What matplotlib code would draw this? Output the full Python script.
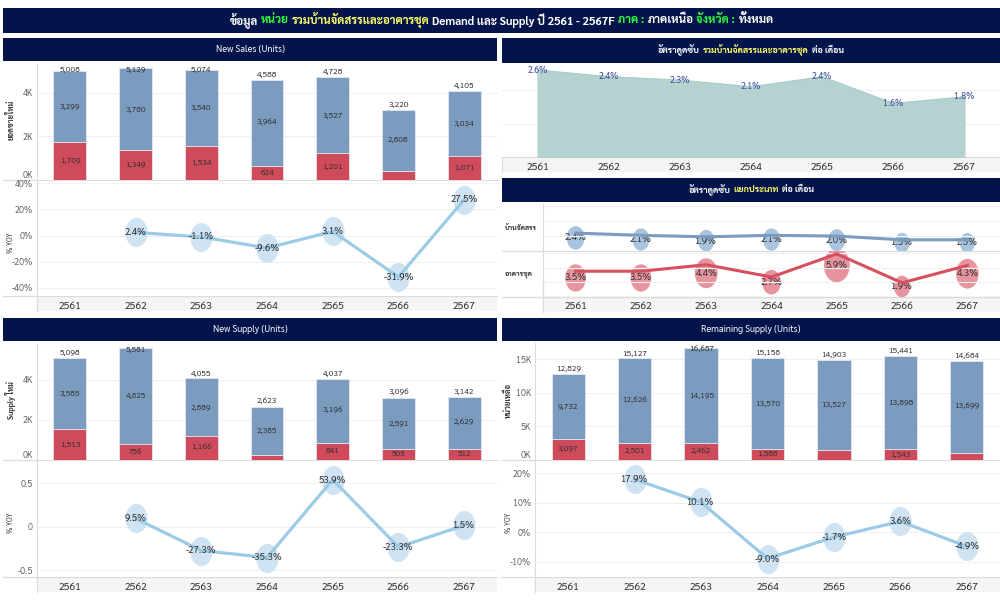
import matplotlib
matplotlib.use("Agg")
import matplotlib.pyplot as plt
from matplotlib.lines import Line2D
from matplotlib.patches import Rectangle
from matplotlib.path import Path
from matplotlib.ticker import FuncFormatter
from matplotlib.transforms import Affine2D

plt.rcParams["font.family"] = ["Sarabun", "Noto Sans Thai", "DejaVu Sans"]

W, H = 1000, 600

years = ["2561", "2562", "2563", "2564", "2565", "2566", "2567"]

# bars: detached houses (blue) / condos (red)
sales_house = [3299, 3780, 3540, 3964, 3527, 2808, 3034]
sales_condo = [1709, 1349, 1534, 624, 1201, 412, 1071]
sales_total = [5008, 5129, 5074, 4588, 4728, 3220, 4105]
sales_yoy = [None, 2.4, -1.1, -9.6, 3.1, -31.9, 27.5]

supply_house = [3585, 4825, 2889, 2385, 3196, 2591, 2629]
supply_condo = [1513, 756, 1166, 238, 841, 505, 512]
supply_total = [5098, 5581, 4055, 2623, 4037, 3096, 3142]
supply_yoy = [None, 9.5, -27.3, -35.3, 53.9, -23.3, 1.5]

remain_house = [9732, 12626, 14195, 13570, 13527, 13898, 13699]
remain_condo = [3097, 2501, 2462, 1588, 1376, 1543, 985]
remain_total = [12829, 15127, 16657, 15158, 14903, 15441, 14684]
remain_yoy = [None, 17.9, 10.1, -9.0, -1.7, 3.6, -4.9]

absorb_all = [2.6, 2.4, 2.3, 2.1, 2.4, 1.6, 1.8]
absorb_house = [2.4, 2.1, 1.9, 2.1, 2.0, 1.5, 1.5]
absorb_condo = [3.5, 3.5, 4.4, 2.7, 5.9, 1.9, 4.3]

NAVY = "#02144a"
BLUE = "#7b9cbf"
RED = "#cf4a5a"
LINE = "#9ccbe6"
BUBBLE = "#cfe3f2"
BAND = "#f5f5f5"
GRID = "#f1f1f1"
RULE = "#dcdcdc"
GREEN = "#2bff3c"
YELLOW = "#ffff66"
TICK = "#666666"
DARK = "#333333"

# tall ellipse, the bubbles in the original are stretched
ELLIPSE = Path.unit_circle().transformed(Affine2D().scale(0.76, 1.0))

fig = plt.figure(figsize=(W / 100, H / 100), dpi=100, facecolor="white")
px = Affine2D().scale(1 / W, -1 / H).translate(0, 1) + fig.transFigure


def axes_px(x0, y0, x1, y1):
    ax = fig.add_axes([x0 / W, 1 - y1 / H, (x1 - x0) / W, (y1 - y0) / H])
    ax.set_xlim(-0.5, 6.5)
    for side in ["top", "right", "bottom"]:
        ax.spines[side].set_visible(False)
    ax.spines["left"].set_color(RULE)
    ax.spines["left"].set_linewidth(0.8)
    ax.set_axisbelow(True)
    ax.grid(axis="y", color=GRID, linewidth=0.8)
    ax.tick_params(axis="y", length=0, labelsize=6.5, labelcolor=TICK, pad=3)
    ax.set_xticks([])
    return ax


def rect_px(x0, y0, x1, y1, color):
    fig.add_artist(Rectangle((x0, y0), x1 - x0, y1 - y0, transform=px,
                             facecolor=color, edgecolor="none", zorder=-1))


def rule_px(x0, y0, x1, y1):
    fig.add_artist(Line2D([x0, x1], [y0, y1], transform=px, color=RULE, linewidth=0.9, zorder=-0.5))


def rich_text(parts, cx, cy, size, gap, weight):
    renderer = fig.canvas.get_renderer()
    items = []
    for s, color in parts:
        t = fig.text(0, 0, s, color=color, fontsize=size, fontweight=weight,
                     va="center", ha="left", transform=px)
        items.append((t, t.get_window_extent(renderer).width))
    total = sum(w for _, w in items) + gap * (len(items) - 1)
    x = cx - total / 2
    for t, w in items:
        t.set_position((x, cy))
        x += w + gap


def header(x0, y0, x1, y1, parts, size=6.4, gap=3, weight="bold"):
    rect_px(x0, y0, x1, y1, NAVY)
    rich_text(parts, (x0 + x1) / 2, (y0 + y1) / 2, size, gap, weight)


def year_band(ax, x0, x1, y0, y1, left):
    rect_px(left, y0, x1, y1, BAND)
    rule_px(x0, y0, x1, y0)
    rule_px(left, y0 - 15, left, y1)
    ax.set_xticks(range(7))
    ax.set_xticklabels(years, fontsize=7.5, color=DARK)
    ax.tick_params(axis="x", length=0, pad=4)


def stacked(box, house, condo, total, ymax, ticks, min_label, ylabel, label_x):
    x0, y0, x1, y1 = box
    ax = axes_px(x0, y0, x1, y1)
    per_px = ymax / (y1 - y0)
    ax.set_ylim(0, ymax)
    ax.bar(range(7), condo, width=0.5, color=RED, edgecolor="#e9eef3", linewidth=0.5)
    ax.bar(range(7), house, bottom=condo, width=0.5, color=BLUE, edgecolor="#e9eef3", linewidth=0.5)
    for i in range(7):
        ax.text(i, condo[i] + house[i] / 2, f"{house[i]:,}", ha="center", va="center",
                fontsize=6, color=DARK)
        if condo[i] >= min_label:
            ax.text(i, condo[i] / 2, f"{condo[i]:,}", ha="center", va="center",
                    fontsize=6, color=DARK)
        # totals near the top of the panel get pushed down onto the bar
        y_label = min(total[i] + 5 * per_px, ymax - 6.5 * per_px)
        ax.text(i, y_label, f"{total[i]:,}", ha="center", va="center", fontsize=6, color=DARK)
    ax.set_yticks(ticks)
    ax.yaxis.set_major_formatter(FuncFormatter(lambda v, _: f"{v / 1000:.0f}K"))
    # the 0K label stays inside the panel, above the baseline
    ax.get_yticklabels()[0].set_va("bottom")
    rule_px(x0 - 34, y1, x1, y1)
    fig.text(label_x, (y0 + y1) / 2 - 1, ylabel, rotation=90, fontsize=5.5, fontweight="bold",
             color=DARK, ha="center", va="center", transform=px)
    return ax


def yoy_panel(box, values, ylim, ticks, tick_text, left):
    x0, y0, x1, y1 = box
    ax = axes_px(x0, y0, x1, y1)
    ax.set_ylim(*ylim)
    xs = [i for i, v in enumerate(values) if v is not None]
    scale = 1.0 if max(ticks) > 1 else 0.01
    ys = [values[i] * scale for i in xs]
    ax.scatter(xs, ys, s=440, marker=ELLIPSE, color=BUBBLE, linewidths=0, zorder=2, clip_on=False)
    ax.plot(xs, ys, color=LINE, linewidth=2.3, zorder=3, clip_on=False)
    for i, y in zip(xs, ys):
        ax.text(i, y, f"{values[i]:.1f}%", ha="center", va="center", fontsize=7, color=DARK, zorder=4)
    ax.set_yticks(ticks)
    ax.set_yticklabels(tick_text)
    year_band(ax, x0 - 34, x1, y1, y1 + 15, left)
    fig.text(left - 26, (y0 + y1) / 2 + 4, "% YOY", rotation=90, fontsize=5, color=DARK,
             ha="center", va="center", transform=px)
    return ax


def type_row(box, values, color, bubble):
    x0, y0, x1, y1 = box
    ax = axes_px(x0, y0, x1, y1)
    ax.set_ylim(0, 6.3)
    ax.set_yticks([2, 4, 6])
    ax.set_yticklabels([])
    # bubbles sit on their own hidden scale in the original
    ax2 = ax.twinx()
    ax2.set_ylim(0, 8.6)
    ax2.set_yticks([])
    for spine in ax2.spines.values():
        spine.set_visible(False)
    sizes = [70 + 90 * v for v in values]
    ax2.scatter(range(7), values, s=sizes, marker=ELLIPSE, color=bubble, linewidths=0, zorder=2)
    ax.plot(range(7), values, color=color, linewidth=2.2, zorder=3)
    for i, v in enumerate(values):
        ax2.text(i, v, f"{v:.1f}%", ha="center", va="center", fontsize=7, color=DARK, zorder=4)
    ax2.patch.set_visible(False)
    ax.set_zorder(ax2.get_zorder() + 1)
    ax.patch.set_visible(False)
    rule_px(502, y1, x1, y1)
    return ax


# main title
header(3, 8, 1000, 32.5, [
    ("ข้อมูล", "white"), ("หน่วย", GREEN), ("รวมบ้านจัดสรรและอาคารชุด", YELLOW),
    ("Demand และ Supply ปี 2561 - 2567F", "white"), ("ภาค :", GREEN), ("ภาคเหนือ", "white"),
    ("จังหวัด :", GREEN), ("ทั้งหมด", "white"),
], size=8.3, gap=3)

# section headers
header(3, 38, 497, 60.5, [("New Sales (Units)", "white")], size=6.6, weight="normal")
header(502, 38, 1000, 62.5, [("อัตราดูดซับ", "white"), ("รวมบ้านจัดสรรและอาคารชุด", YELLOW), ("ต่อ เดือน", "white")])
header(502, 177.5, 1000, 202, [("อัตราดูดซับ", "white"), ("แยกประเภท", YELLOW), ("ต่อ เดือน", "white")])
header(3, 318, 497, 341, [("New Supply (Units)", "white")], size=6.6, weight="normal")
header(502, 318, 1000, 341, [("Remaining Supply (Units)", "white")], size=6.6, weight="normal")

# left column
stacked((37, 63, 497, 179.5), sales_house, sales_condo, sales_total, 5381, [0, 2000, 4000], 500, "ยอดขายใหม่", 11)
yoy_panel((37, 181, 497, 296), sales_yoy, (-46.5, 41.9), [-40, -20, 0, 20, 40],
          ["-40%", "-20%", "0%", "20%", "40%"], 37)

stacked((37, 343, 497, 459.5), supply_house, supply_condo, supply_total, 5825, [0, 2000, 4000], 500, "Supply ใหม่", 11)
yoy_panel((37, 461, 497, 577), supply_yoy, (-0.576, 0.753), [-0.5, 0, 0.5], ["-0.5", "0", "0.5"], 37)

# right column, area
ax_area = axes_px(502, 65, 1000, 157)
ax_area.set_ylim(0, 2.75)
ax_area.set_yticks([1, 2])
ax_area.set_yticklabels([])
ax_area.fill_between(range(7), absorb_all, color="#b4d3d0", zorder=2)
ax_area.plot(range(7), absorb_all, color="#a9ccc9", linewidth=0.8, zorder=2)
for i, v in enumerate(absorb_all):
    ax_area.text(i, v, f"{v:.1f}%", ha="center", va="center", fontsize=6.5, color="#3a4a9a", zorder=3)
ax_area.spines["left"].set_visible(False)
year_band(ax_area, 502, 1000, 157, 172, 502)

# right column, by type
type_row((543, 204, 1000, 251), absorb_house, BLUE, "#a9c4df")
ax_condo = type_row((543, 251, 1000, 296.5), absorb_condo, "#d6505f", "#e8949e")
year_band(ax_condo, 502, 1000, 296.5, 312, 543)
fig.text(505, 228, "บ้านจัดสรร", fontsize=5, fontweight="bold", color=DARK, va="center", transform=px)
fig.text(505, 274, "อาคารชุด", fontsize=5, fontweight="bold", color=DARK, va="center", transform=px)

# right column, remaining supply
stacked((535, 343, 1000, 459.5), remain_house, remain_condo, remain_total, 17414, [0, 5000, 10000, 15000], 1500, "หน่วยเหลือ", 509)
yoy_panel((535, 461, 1000, 577), remain_yoy, (-15.25, 24.1), [-10, 0, 10, 20],
          ["-10%", "0%", "10%", "20%"], 535)

fig.savefig("out.png", dpi=100, facecolor="white")
